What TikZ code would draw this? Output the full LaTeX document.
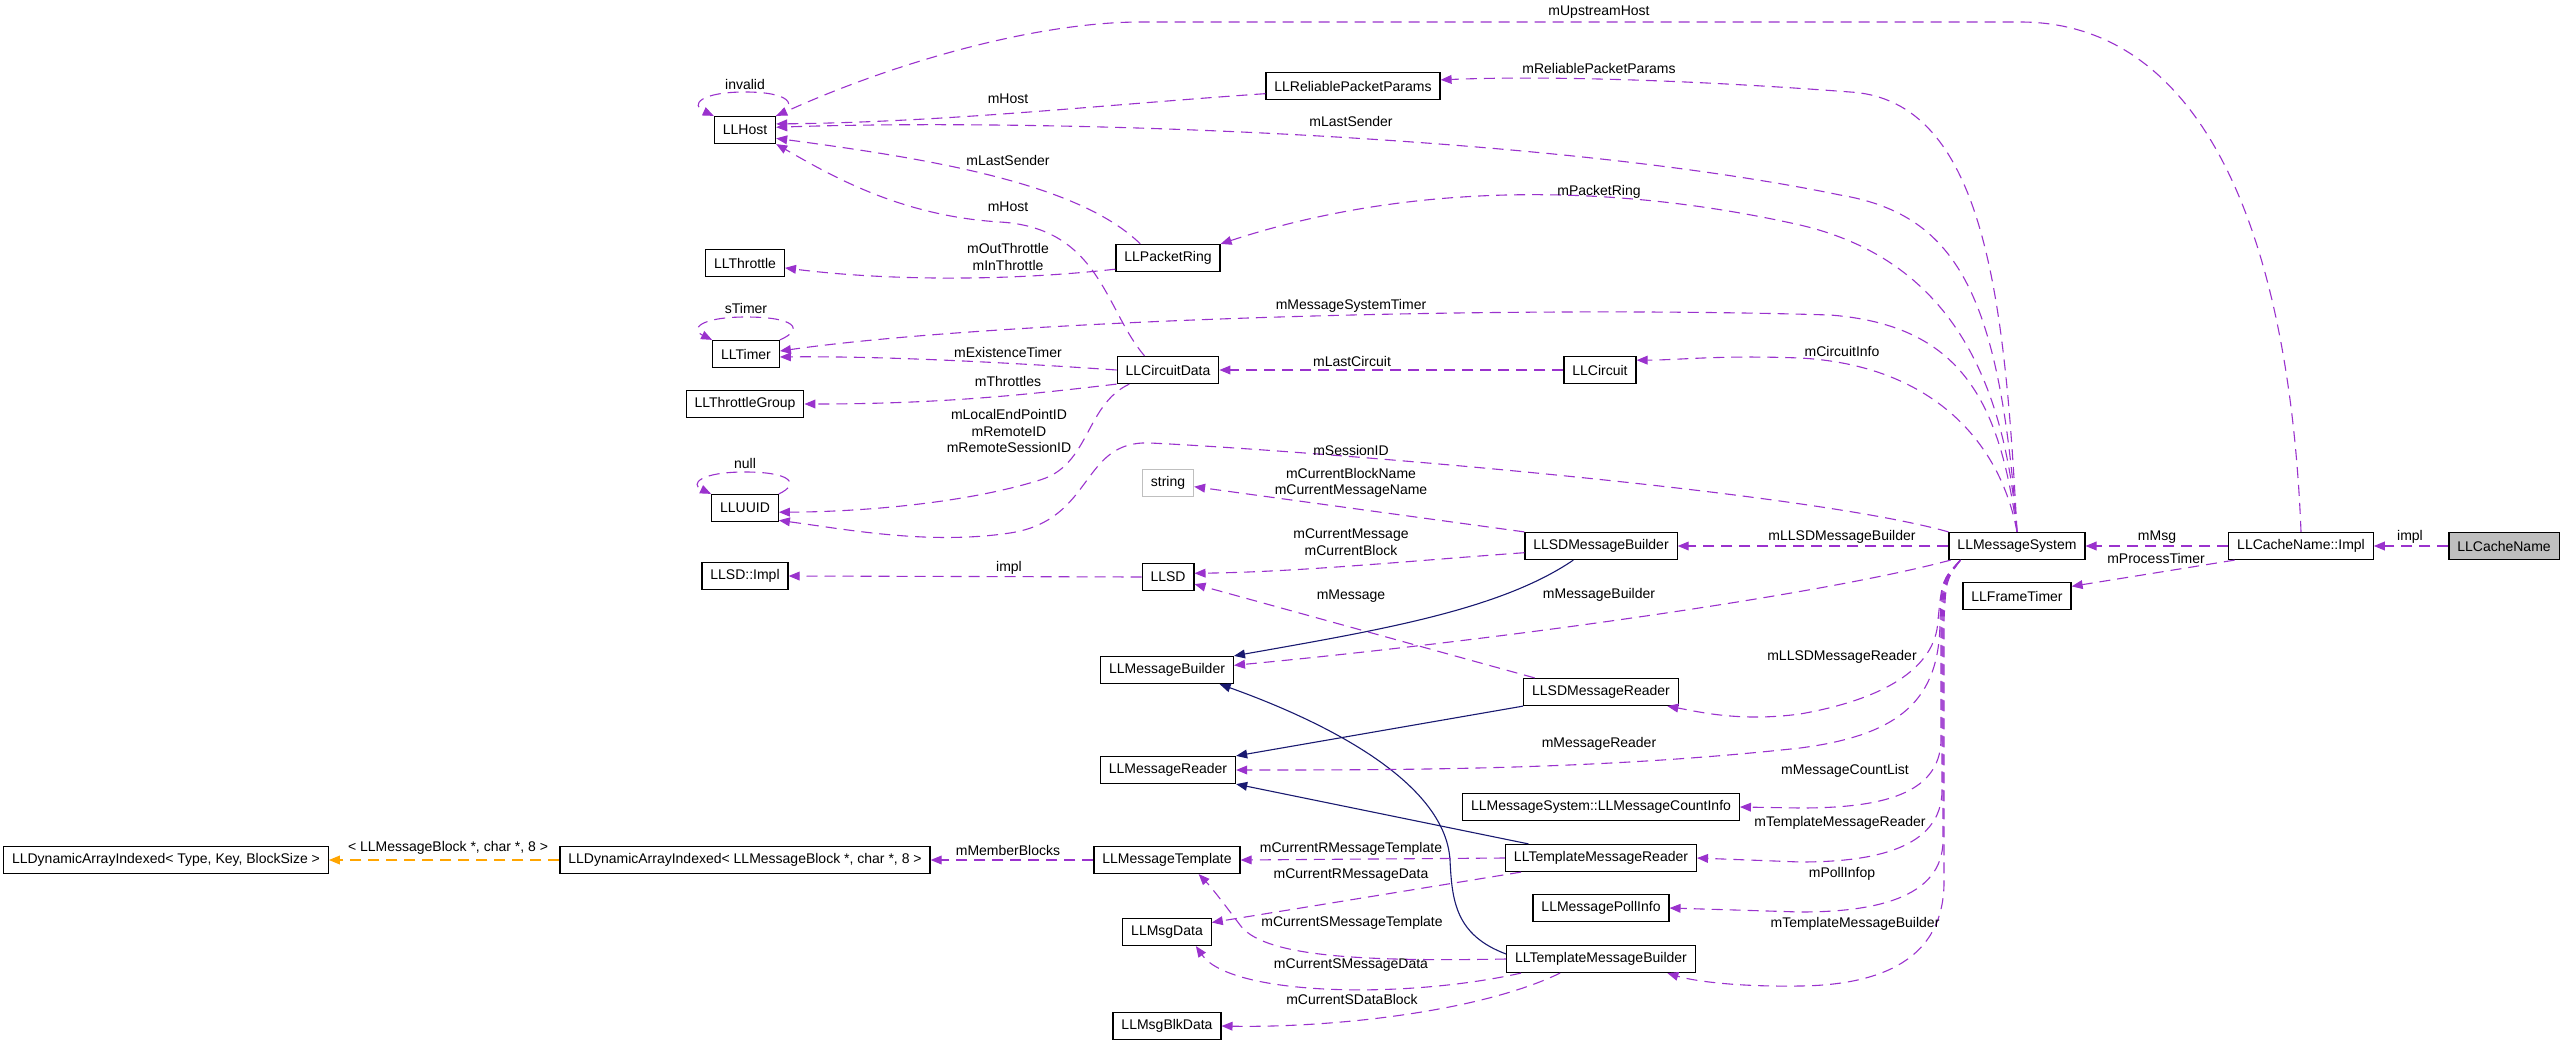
\documentclass[tikz,border=0pt]{standalone}
\usepackage{fontspec}
\setmainfont{Liberation Sans}
\usepackage{xcolor}
\usepackage{tikz}
\usetikzlibrary{arrows.meta}

\definecolor{member}{HTML}{9A32CD}
\definecolor{inhblue}{HTML}{191970}
\definecolor{tplorange}{HTML}{FFA500}

\begin{document}
\begin{tikzpicture}[
  x=0.5pt, y=-0.5pt,
  font=\fontsize{7}{8.2}\selectfont,
  cls/.style={draw=black, fill=white, line width=0.6pt, minimum height=13.5pt,
              inner xsep=4.2pt, inner ysep=0pt, align=center},
  rel/.style={draw=member, line width=0.55pt, dash pattern=on 5.5pt off 3.5pt,
              -{Triangle[length=5.5pt,width=4.4pt]}},
  inh/.style={draw=inhblue, line width=0.55pt, -{Triangle[length=5.5pt,width=4.4pt]}},
  tpl/.style={draw=tplorange, line width=0.55pt, dash pattern=on 5.5pt off 3.5pt,
              -{Triangle[length=5.5pt,width=4.4pt]}},
  lbl/.style={inner sep=0.5pt, align=center},
]
\useasboundingbox (0,0) rectangle (2565,1044);

% classes
\node[cls] (host) at (745,130) {LLHost};
\node[cls] (relparams) at (1353,86) {LLReliablePacketParams};
\node[cls] (throttle) at (745,263) {LLThrottle};
\node[cls] (packetring) at (1168,258) {LLPacketRing};
\node[cls] (timer) at (746,354) {LLTimer};
\node[cls] (circuitdata) at (1168,370) {LLCircuitData};
\node[cls] (circuit) at (1600,370) {LLCircuit};
\node[cls] (throttlegrp) at (745,404) {LLThrottleGroup};
\node[cls] (uuid) at (745,508) {LLUUID};
\node[cls, draw=gray!50] (string) at (1168,483) {string};
\node[cls] (sdbuilder) at (1601,546) {LLSDMessageBuilder};
\node[cls] (msgsys) at (2017,546) {LLMessageSystem};
\node[cls] (cacheimpl) at (2301,546) {LLCacheName::Impl};
\node[cls, fill=gray!50] (cachename) at (2504,546) {LLCacheName};
\node[cls] (sdimpl) at (745,576) {LLSD::Impl};
\node[cls] (llsd) at (1168,577) {LLSD};
\node[cls] (msgbuilder) at (1167,670) {LLMessageBuilder};
\node[cls] (sdreader) at (1601,692) {LLSDMessageReader};
\node[cls] (frametimer) at (2017,596) {LLFrameTimer};
\node[cls] (msgreader) at (1168,770) {LLMessageReader};
\node[cls] (countinfo) at (1601,807) {LLMessageSystem::LLMessageCountInfo};
\node[cls] (arraygen) at (166,860) {LLDynamicArrayIndexed< Type, Key, BlockSize >};
\node[cls] (arrayspec) at (745,860) {LLDynamicArrayIndexed< LLMessageBlock *, char *, 8 >};
\node[cls] (msgtemplate) at (1167,860) {LLMessageTemplate};
\node[cls] (tplreader) at (1601,858) {LLTemplateMessageReader};
\node[cls] (pollinfo) at (1601,908) {LLMessagePollInfo};
\node[cls] (msgdata) at (1167,932) {LLMsgData};
\node[cls] (tplbuilder) at (1601,959) {LLTemplateMessageBuilder};
\node[cls] (blkdata) at (1167,1026) {LLMsgBlkData};

% self references
\draw[rel] (host.north east) .. controls (800,105) and (790,92) .. (745,92)
  .. controls (700,92) and (690,105) .. (host.north west)
  node[lbl] (lInvalid) at (745,84) {invalid};
\draw[rel] (timer.north east) .. controls (805,329) and (795,317) .. (746,317)
  .. controls (700,317) and (690,329) .. (timer.north west)
  node[lbl] (lSTimer) at (746,308) {sTimer};
\draw[rel] (uuid.north east) .. controls (800,484) and (792,472) .. (745,472)
  .. controls (700,472) and (690,484) .. (uuid.north west)
  node[lbl] (lNull) at (745,463) {null};

% LLHost users
\draw[rel] (cacheimpl.north) .. controls (2290,250) and (2210,22) .. (2020,22) -- (1141,22)
  .. controls (1040,22) and (900,60) .. (host.north east)
  node[lbl] (lUpstream) at (1599,12) {mUpstreamHost};
\draw[rel] (relparams.-175) .. controls (1100,105) and (950,122) .. (host.11)
  node[lbl] (lHostA) at (1008,99) {mHost};
\draw[rel] (msgsys.north) .. controls (2000,300) and (1960,215) .. (1840,195)
  .. controls (1550,135) and (1050,118) .. (host.5)
  node[lbl] (lSenderA) at (1351,121) {mLastSender};
\draw[rel] (packetring.153) .. controls (1080,185) and (940,160) .. (host.-15)
  node[lbl] (lSenderB) at (1008,160) {mLastSender};
\draw[rel] (circuitdata.149) .. controls (1105,310) and (1100,228) .. (1000,222)
  .. controls (900,216) and (830,175) .. (host.south east)
  node[lbl] (lHostB) at (1008,207) {mHost};

% circuit side
\draw[rel] (packetring.-168) .. controls (1000,282) and (880,280) .. (throttle.-7)
  node[lbl] (lThrottle) at (1008,257) {mOutThrottle\\mInThrottle};
\draw[rel] (msgsys.north) .. controls (2005,300) and (1985,100) .. (1850,92)
  .. controls (1720,82) and (1560,75) .. (relparams.4)
  node[lbl] (lRelParams) at (1599,68) {mReliablePacketParams};
\draw[rel] (msgsys.north) .. controls (2005,380) and (1950,260) .. (1800,225)
  .. controls (1600,180) and (1400,185) .. (packetring.north east)
  node[lbl] (lPacketRing) at (1599,192) {mPacketRing};
\draw[rel] (msgsys.north) .. controls (2000,400) and (1960,325) .. (1830,315)
  .. controls (1500,305) and (1000,320) .. (timer.5)
  node[lbl] (lSysTimer) at (1351,306) {mMessageSystemTimer};
\draw[rel] (circuitdata.west) .. controls (1000,362) and (880,356) .. (timer.-5)
  node[lbl] (lExistence) at (1008,352) {mExistenceTimer};
\draw[rel] (circuitdata.south west) .. controls (1040,393) and (950,404) .. (throttlegrp.east)
  node[lbl] (lThrottles) at (1008,381) {mThrottles};
\draw[rel] (circuit.west) -- (circuitdata.east)
  node[lbl] (lLastCircuit) at (1352,361) {mLastCircuit};
\draw[rel] (msgsys.north) .. controls (2000,440) and (1930,365) .. (1800,358)
  .. controls (1720,355) and (1680,360) .. (circuit.15)
  node[lbl] (lCircuitInfo) at (1842,351) {mCircuitInfo};
\draw[rel] (circuitdata.-160) .. controls (1085,405) and (1090,465) .. (1040,480)
  .. controls (960,505) and (850,512) .. (uuid.-7)
  node[lbl] (lIds) at (1009,431) {mLocalEndPointID\\mRemoteID\\mRemoteSessionID};
\draw[rel] (msgsys.north west) .. controls (1800,490) and (1300,450) .. (1150,443)
  .. controls (1080,440) and (1095,520) .. (1010,533)
  .. controls (930,545) and (850,530) .. (uuid.-20)
  node[lbl] (lSession) at (1351,450) {mSessionID};

% LLSD builder / reader
\draw[rel] (sdbuilder.north west) -- (string.-8)
  node[lbl] (lNames) at (1351,483) {mCurrentBlockName\\mCurrentMessageName};
\draw[rel] (sdbuilder.-175) .. controls (1420,560) and (1300,572) .. (llsd.8)
  node[lbl] (lCurrent) at (1351,542) {mCurrentMessage\\mCurrentBlock};
\draw[rel] (llsd.west) -- (sdimpl.east)
  node[lbl] (lImplA) at (1009,568) {impl};
\draw[rel] (sdreader.168) -- (llsd.-15)
  node[lbl] (lMessage) at (1351,596) {mMessage};
\draw[rel] (msgsys.west) -- (sdbuilder.east)
  node[lbl] (lSdBuilder) at (1842,537) {mLLSDMessageBuilder};
\draw[rel] (msgsys.-168) .. controls (1820,595) and (1500,640) .. (msgbuilder.4)
  node[lbl] (lBuilder) at (1599,595) {mMessageBuilder};

% inheritance
\draw[inh] (sdbuilder.-153) .. controls (1500,610) and (1380,630) .. (msgbuilder.north east);
\draw[inh] (tplbuilder.177) .. controls (1455,935) and (1452,900) .. (1450,860)
  .. controls (1445,780) and (1320,720) .. (msgbuilder.-15);
\draw[inh] (sdreader.south west) -- (msgreader.north east);
\draw[inh] (tplreader.169) -- (msgreader.south east);

% members below LLMessageSystem
\draw[rel] (msgsys.-166) .. controls (1942,580) .. (1938,620)
  .. controls (1936,670) and (1880,700) .. (1800,714)
  .. controls (1740,722) and (1700,712) .. (sdreader.-12)
  node[lbl] (lSdReader) at (1842,657) {mLLSDMessageReader};
\draw[rel] (msgsys.-166) .. controls (1942,580) .. (1940,620)
  .. controls (1940,700) and (1900,735) .. (1800,748)
  .. controls (1600,770) and (1400,770) .. (msgreader.east)
  node[lbl] (lReader) at (1599,744) {mMessageReader};
\draw[rel] (msgsys.-166) .. controls (1943,580) .. (1941,620) -- (1941,740)
  .. controls (1940,795) and (1880,808) .. (1800,808) -- (countinfo.east)
  node[lbl] (lCountList) at (1845,771) {mMessageCountList};
\draw[rel] (msgsys.-166) .. controls (1944,580) .. (1942,620) -- (1942,790)
  .. controls (1942,850) and (1870,862) .. (1800,862) -- (tplreader.east)
  node[lbl] (lTplReader) at (1840,823) {mTemplateMessageReader};
\draw[rel] (msgsys.-166) .. controls (1945,580) .. (1943,620) -- (1943,840)
  .. controls (1943,900) and (1870,912) .. (1800,912) -- (pollinfo.east)
  node[lbl] (lPoll) at (1842,874) {mPollInfop};
\draw[rel] (msgsys.-166) .. controls (1946,580) .. (1944,620) -- (1944,880)
  .. controls (1945,960) and (1880,985) .. (1800,986)
  .. controls (1730,987) and (1690,980) .. (tplbuilder.-12)
  node[lbl] (lTplBuilder) at (1855,924) {mTemplateMessageBuilder};

% LLCacheName
\draw[rel] (cacheimpl.west) -- (msgsys.east)
  node[lbl] (lMsg) at (2157,537) {mMsg};
\draw[rel] (cacheimpl.-168) -- (frametimer.10)
  node[lbl] (lProcess) at (2156,558) {mProcessTimer};
\draw[rel] (cachename.west) -- (cacheimpl.east)
  node[lbl] (lImplB) at (2410,537) {impl};

% template side
\draw[tpl] (arrayspec.west) -- (arraygen.east)
  node[lbl] (lTplArgs) at (448,848) {< LLMessageBlock *, char *, 8 >};
\draw[rel] (msgtemplate.west) -- (arrayspec.east)
  node[lbl] (lMembers) at (1008,850) {mMemberBlocks};
\draw[rel] (tplreader.west) -- (msgtemplate.east)
  node[lbl] (lRTemplate) at (1351,849) {mCurrentRMessageTemplate};
\draw[rel] (tplreader.-170) -- (msgdata.12)
  node[lbl] (lRData) at (1351,875) {mCurrentRMessageData};
\draw[rel] (tplbuilder.west) .. controls (1350,962) and (1262,955) .. (1240,925)
  .. controls (1225,905) and (1212,888) .. (msgtemplate.-24)
  node[lbl] (lSTemplate) at (1352,923) {mCurrentSMessageTemplate};
\draw[rel] (tplbuilder.-170) .. controls (1400,1000) and (1230,995) .. (msgdata.-26)
  node[lbl] (lSData) at (1351,965) {mCurrentSMessageData};
\draw[rel] (tplbuilder.-161) .. controls (1480,1012) and (1330,1028) .. (blkdata.east)
  node[lbl] (lBlock) at (1352,999) {mCurrentSDataBlock};
\end{tikzpicture}
\end{document}
